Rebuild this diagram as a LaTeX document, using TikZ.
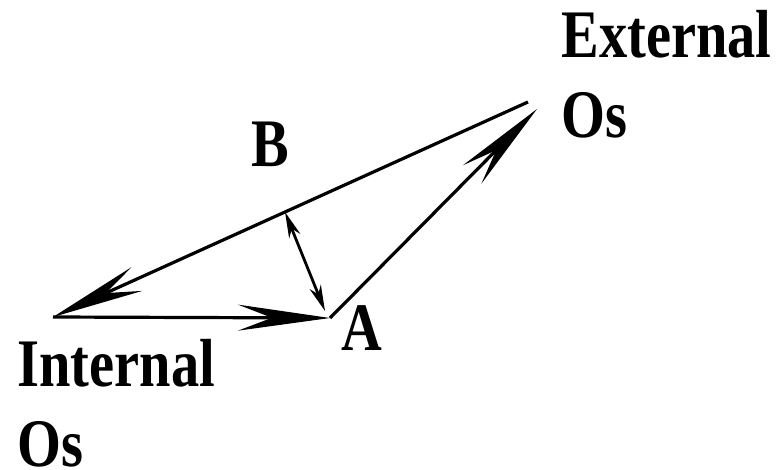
\documentclass[tikz,border=0pt]{standalone}
\usepackage{fontspec}
\newfontfamily\labelfont[FakeStretch=0.83]{Liberation Serif}
\usetikzlibrary{arrows.meta}
\tikzset{
osvector/.style={-{Stealth[length=46pt,width=13pt,inset=17pt]}, line width=1.6pt, draw=black},
osdouble/.style={{Stealth[length=13pt,width=6pt,inset=4pt]}-{Stealth[length=13pt,width=6pt,inset=4pt]}, line width=1.4pt},
oslabel/.style={font=\labelfont\bfseries\fontsize{34}{40}\selectfont, inner sep=0pt, align=left}
}

\begin{document}
\begin{tikzpicture}[x=0.5pt, y=-0.5pt]
  \useasboundingbox (0,0) rectangle (781,470);
  % corner points of the triangle
  \coordinate (int) at (53,317);
  \coordinate (a) at (330,318);
  \coordinate (ext) at (528,102);
  \coordinate (exthead) at (537,109);
  \coordinate (foot) at (285,212);
  \coordinate (nearA) at (325,311);
  % labels
  \node[oslabel, anchor=north west] (extlbl) at (561,10) {External\\Os};
  \node[oslabel, anchor=north west] (intlbl) at (17,339) {Internal\\Os};
  \node[oslabel, anchor=base] (blbl) at (270,167) {B};
  \node[oslabel, anchor=base] (albl) at (362,350) {A};
  % vectors
  \draw[osvector] (int) -- (a);
  \draw[osvector] (a) -- (exthead);
  \draw[osvector] (ext) -- (int);
  \draw[osdouble] (foot) -- (nearA);
\end{tikzpicture}
\end{document}
